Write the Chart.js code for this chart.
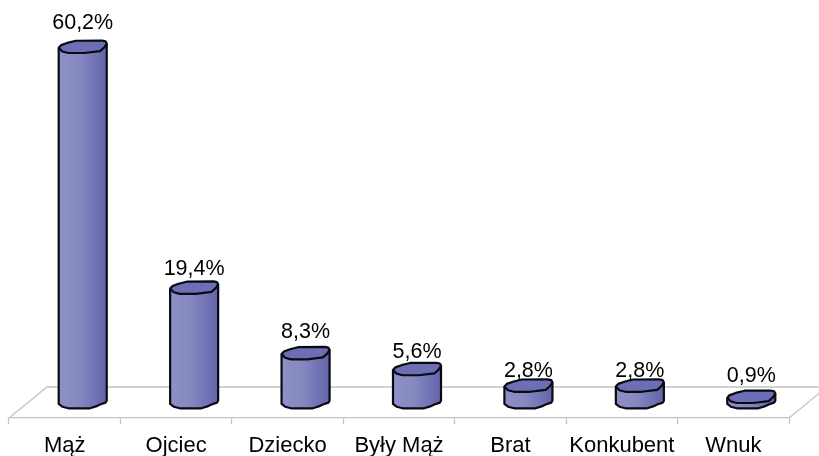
<!DOCTYPE html>
<html><head><meta charset="utf-8">
<script src="https://cdn.jsdelivr.net/npm/chart.js@4"></script>
<style>html,body{margin:0;padding:0;background:#fff}canvas{display:block}</style>
</head><body>
<canvas id="c" width="819" height="456"></canvas>
<script>
const categories = ["Mąż","Ojciec","Dziecko","Były Mąż","Brat","Konkubent","Wnuk"];
const shares = [60.2,19.4,8.3,5.6,2.8,2.8,0.9];
const valueLabels = ["60,2%","19,4%","8,3%","5,6%","2,8%","2,8%","0,9%"];
const labelLift = [24,18,21,17,14,14,21];

const FONT = '"Liberation Sans", Arial, sans-serif';
const DEPTH = 18, CAT_PCT = 0.431, RY = 6.3;
const capShape = [[-1,.15],[-.9,-.25],[-.65,-.6],[-.28,-.95],[.8,-.98],[.95,-.85],[1,-.5],[.9,.1],[.72,.7],[.07,1],[-.6,1],[-.85,.75]];
const footShape = [[-1,.3],[-.85,.75],[-.6,1],[.3,1],[.55,.7],[.72,.4],[.95,.1],[1,-.2]];

function sideGradient(c, left, w){
  const g = c.createLinearGradient(left,0,left+w,0);
  g.addColorStop(0,'#8f90c8');g.addColorStop(.45,'#8587bf');g.addColorStop(1,'#6264ab');
  return g;
}
function poly(c,x,y,hw,pts,close){
  c.beginPath();
  pts.forEach((p,i)=>{const X=x+p[0]*hw,Y=y+p[1]*RY;i?c.lineTo(X,Y):c.moveTo(X,Y);});
  if(close)c.closePath();
}
const cylinders = {
  id:'cylinders',
  beforeDatasetsDraw(chart){
    const c=chart.ctx,a=chart.chartArea;
    c.save();
    c.strokeStyle='#c4c4c4';c.lineWidth=1.3;
    c.beginPath();
    c.moveTo(a.left,a.bottom);c.lineTo(a.left+38,a.bottom-31);c.lineTo(819,a.bottom-31);
    c.moveTo(a.right,a.bottom);c.lineTo(819,a.bottom-24.5);
    c.stroke();
    c.restore();
    c.save();
    c.translate(DEPTH,0);
  },
  afterDatasetsDraw(chart){
    const c=chart.ctx,meta=chart.getDatasetMeta(0);
    c.lineJoin='round';c.lineWidth=2.2;c.strokeStyle='#0a0a12';
    meta.data.forEach((b,i)=>{
      const hw=b.width/2,x=b.x,top=b.y,base=b.base;
      // lower rim of the cylinder
      poly(c,x,base,hw,footShape,false);
      c.lineTo(x+hw,base-1);c.lineTo(x-hw,base-1);c.closePath();
      c.fillStyle=sideGradient(c,x-hw,b.width);c.fill();
      // sides and lower rim outline
      c.beginPath();
      c.moveTo(x-hw,top+.2*RY);
      footShape.forEach(p=>c.lineTo(x+p[0]*hw,base+p[1]*RY));
      c.lineTo(x+hw,top-.5*RY);
      c.stroke();
      // top cap
      poly(c,x,top,hw,capShape,true);
      c.fillStyle='#6c6fb5';c.fill();c.stroke();
    });
    c.restore();
    c.save();
    c.fillStyle='#000';c.font='21.5px '+FONT;c.textAlign='center';c.textBaseline='middle';
    meta.data.forEach((b,i)=>c.fillText(valueLabels[i],b.x+DEPTH,b.y-labelLift[i]));
    c.restore();
  }
};
new Chart(document.getElementById('c'),{
  type:'bar',
  data:{labels:categories,datasets:[{
    data:shares,borderWidth:0,categoryPercentage:CAT_PCT,barPercentage:1,
    backgroundColor(ctx){
      const ch=ctx.chart,s=ch.scales.x;
      if(!s||!ch.chartArea)return '#8688c0';
      const w=s.width/categories.length*CAT_PCT;
      return sideGradient(ch.ctx,s.getPixelForValue(ctx.dataIndex)-w/2,w);
    }
  }]},
  options:{
    responsive:false,animation:false,devicePixelRatio:1,
    layout:{padding:{left:9,right:30,top:6,bottom:0}},
    plugins:{legend:{display:false},tooltip:{enabled:false}},
    scales:{
      y:{display:false,min:-2.71,max:67.1},
      x:{
        afterFit(s){s.height=38;},
        border:{color:'#c4c4c4',width:1.3},
        grid:{drawOnChartArea:false,color:'#c4c4c4',tickLength:6,tickWidth:1.3},
        ticks:{color:'#000',font:{family:FONT,size:22},padding:9,autoSkip:false,maxRotation:0}
      }
    }
  },
  plugins:[cylinders]
});
</script>
</body></html>
